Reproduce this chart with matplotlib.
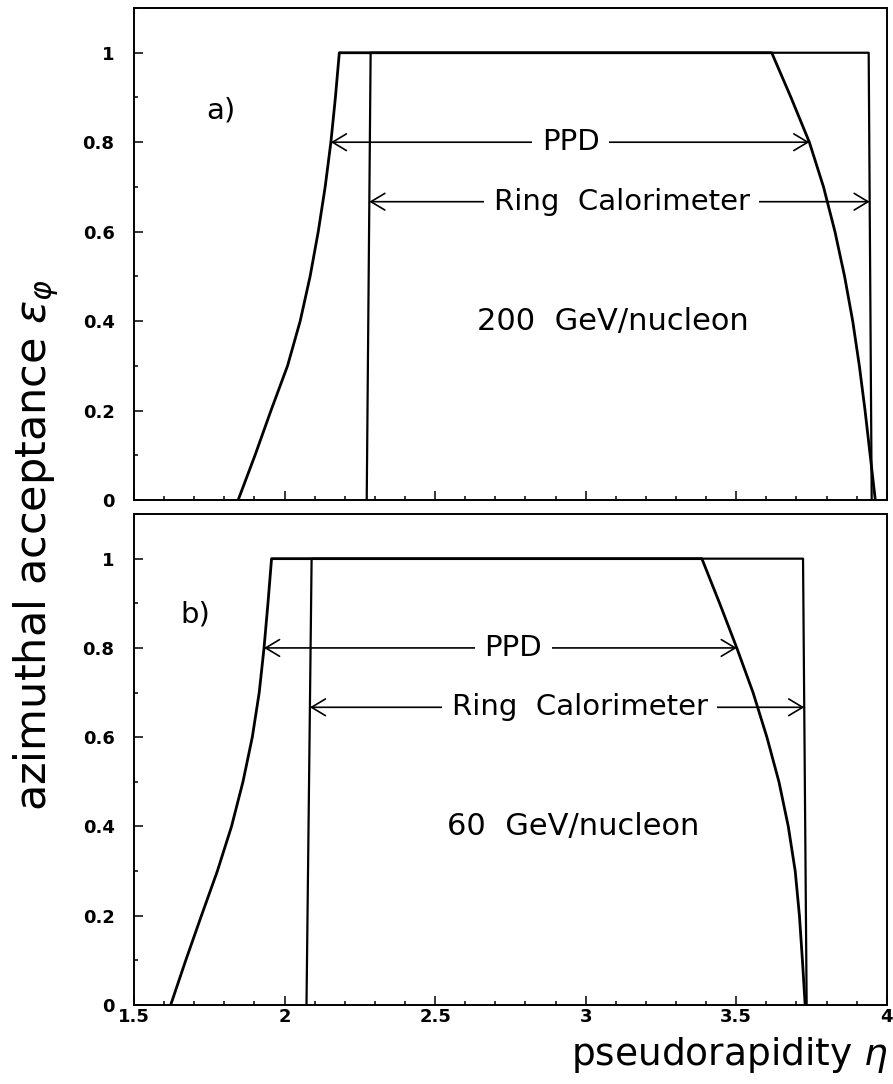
"""Azimuthal acceptance of PPD and Ring Calorimeter vs pseudorapidity."""

import numpy as np
import matplotlib
matplotlib.use("Agg")
import matplotlib.pyplot as plt
from matplotlib.ticker import MultipleLocator, FixedLocator

plt.rcParams["font.family"] = ["DejaVu Sans"]

# a) 200 GeV/nucleon -- PPD acceptance (rising edge, plateau, falling edge)
eta_ppd_a = [1.846, 1.902, 1.955, 2.010, 2.052, 2.085, 2.112, 2.135, 2.154, 2.169, 2.182,
             3.618, 3.682, 3.743, 3.790, 3.828, 3.860, 3.887, 3.909, 3.928, 3.945, 3.962]
eps_ppd_a = [0.0, 0.1, 0.2, 0.3, 0.4, 0.5, 0.6, 0.7, 0.8, 0.9, 1.0,
             1.0, 0.9, 0.8, 0.7, 0.6, 0.5, 0.4, 0.3, 0.2, 0.1, 0.0]
eta_ring_a = [2.273, 2.286, 3.940, 3.950]
eps_ring_a = [0.0, 1.0, 1.0, 0.0]

# b) 60 GeV/nucleon
eta_ppd_b = [1.622, 1.672, 1.724, 1.777, 1.824, 1.862, 1.893, 1.916, 1.932, 1.945, 1.957,
             3.386, 3.445, 3.502, 3.556, 3.602, 3.642, 3.673, 3.696, 3.710, 3.720, 3.729]
eps_ppd_b = [0.0, 0.1, 0.2, 0.3, 0.4, 0.5, 0.6, 0.7, 0.8, 0.9, 1.0,
             1.0, 0.9, 0.8, 0.7, 0.6, 0.5, 0.4, 0.3, 0.2, 0.1, 0.0]
eta_ring_b = [2.073, 2.090, 3.722, 3.734]
eps_ring_b = [0.0, 1.0, 1.0, 0.0]

x_ticks = [1.5, 2, 2.5, 3, 3.5, 4]
x_ticklabels = ["1.5", "2", "2.5", "3", "3.5", "4"]
y_ticks = [0, 0.2, 0.4, 0.6, 0.8, 1.0]
y_ticklabels = ["0", "0.2", "0.4", "0.6", "0.8", "1"]

PPD_LEVEL = 0.8
RING_LEVEL = 0.667


def edges(eta, eps, level):
    """Return eta where the rising and falling edges cross a given level."""
    eta = np.asarray(eta)
    eps = np.asarray(eps)
    top = np.where(eps >= 1.0)[0]
    i0, i1 = top[0], top[-1]
    left = np.interp(level, eps[:i0 + 1], eta[:i0 + 1])
    right = np.interp(level, eps[i1:][::-1], eta[i1:][::-1])
    return left, right


def draw_arrow(ax, lo, hi, y, label, xtext):
    ax.annotate("", xy=(hi, y), xytext=(lo, y),
                arrowprops=dict(arrowstyle="<->,head_length=0.5,head_width=0.3",
                                lw=1.2, color="black", shrinkA=0, shrinkB=0,
                                mutation_scale=20), zorder=2)
    ax.text(xtext, y, label, fontsize=21, ha="center", va="center", zorder=4,
            bbox=dict(facecolor="white", edgecolor="none", pad=7))


def draw_panel(ax, eta_ppd, eps_ppd, eta_ring, eps_ring, tag, tag_pos,
               energy, energy_x, ppd_x, ring_x, show_xlabels):
    ax.plot(eta_ppd, eps_ppd, color="black", lw=2.0, zorder=3,
            solid_joinstyle="round")
    ax.plot(eta_ring, eps_ring, color="black", lw=1.6, zorder=3)

    lo, hi = edges(eta_ppd, eps_ppd, PPD_LEVEL)
    draw_arrow(ax, lo, hi, PPD_LEVEL, "PPD", ppd_x)
    lo, hi = edges(eta_ring, eps_ring, RING_LEVEL)
    draw_arrow(ax, lo, hi, RING_LEVEL, "Ring  Calorimeter", ring_x)

    ax.text(tag_pos[0], tag_pos[1], tag, fontsize=21, ha="center", va="center")
    ax.text(energy_x, 0.4, energy, fontsize=22, ha="center", va="center")

    ax.set_xlim(1.5, 4.0)
    ax.set_ylim(0, 1.1)
    ax.xaxis.set_major_locator(FixedLocator(x_ticks))
    ax.xaxis.set_minor_locator(MultipleLocator(0.1))
    ax.yaxis.set_major_locator(FixedLocator(y_ticks))
    ax.yaxis.set_minor_locator(MultipleLocator(0.1))
    ax.set_yticklabels(y_ticklabels, fontsize=13, fontweight="bold")
    if show_xlabels:
        ax.set_xticklabels(x_ticklabels, fontsize=13, fontweight="bold")
    else:
        ax.set_xticklabels([])
    ax.tick_params(which="both", direction="in", top=False, right=False, width=1.1)
    ax.tick_params(which="major", length=6.5)
    ax.tick_params(which="minor", length=3.2)
    ax.tick_params(axis="y", pad=14)
    ax.tick_params(axis="x", pad=2)
    for sp in ax.spines.values():
        sp.set_linewidth(1.4)


fig = plt.figure(figsize=(8.93, 10.84), dpi=100, facecolor="white")
ax_a = fig.add_axes([0.150, 0.5387, 0.843, 0.4539])
ax_b = fig.add_axes([0.150, 0.0729, 0.843, 0.4529])

draw_panel(ax_a, eta_ppd_a, eps_ppd_a, eta_ring_a, eps_ring_a, "a)", (1.79, 0.87),
           "200  GeV/nucleon", 3.09, 2.95, 3.12, False)
draw_panel(ax_b, eta_ppd_b, eps_ppd_b, eta_ring_b, eps_ring_b, "b)", (1.705, 0.875),
           "60  GeV/nucleon", 2.96, 2.76, 2.98, True)

fig.text(0.995, 0.027, r"pseudorapidity $\eta$", fontsize=27, ha="right", va="center")
fig.text(0.040, 0.497, r"azimuthal acceptance $\varepsilon_\varphi$", fontsize=31,
         rotation=90, ha="center", va="center")

fig.savefig("out.png", dpi=100, facecolor="white")
plt.close(fig)
